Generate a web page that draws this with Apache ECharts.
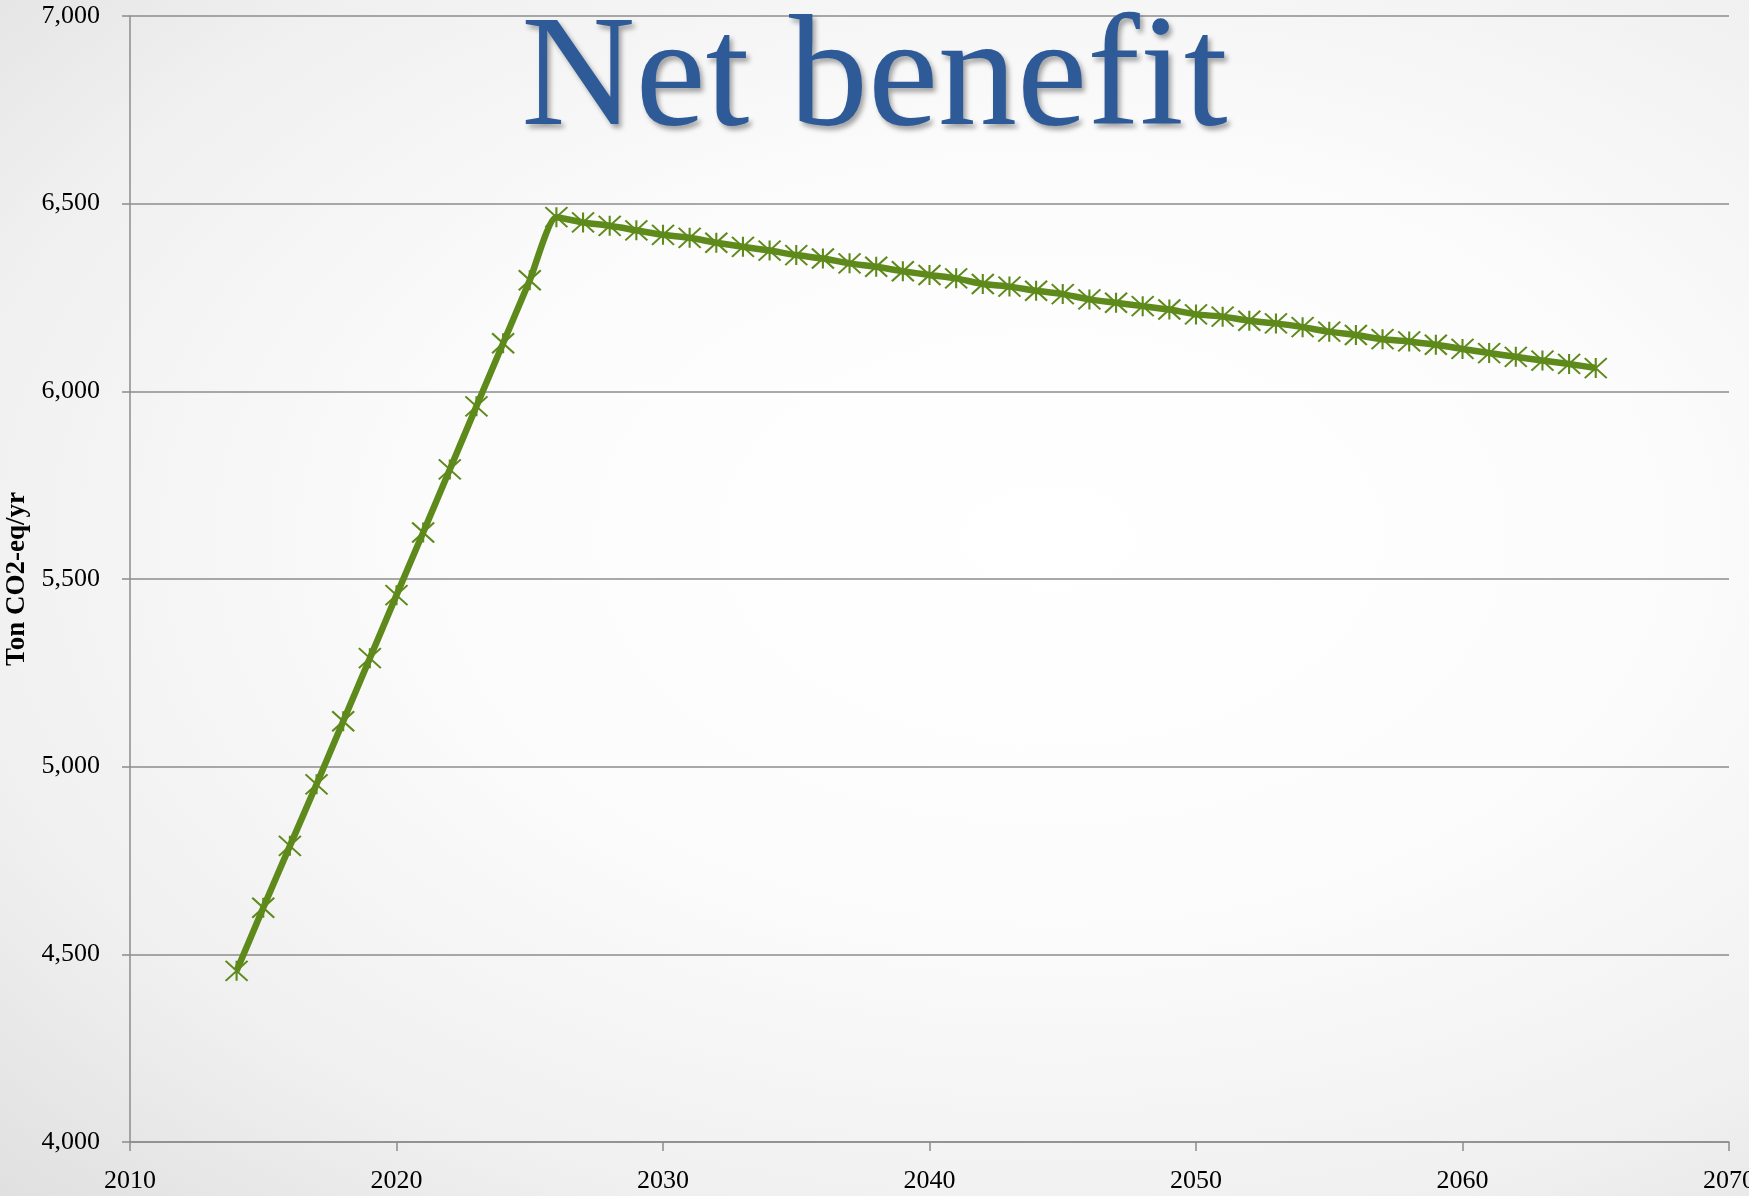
<!DOCTYPE html>
<html>
<head>
<meta charset="utf-8">
<title>Net benefit</title>
<script src="https://cdn.jsdelivr.net/npm/echarts@6/dist/echarts.min.js"></script>
<style>
  html, body { margin: 0; padding: 0; overflow: hidden; }
  #chart {
    width: 1749px;
    height: 1196px;
    background: radial-gradient(ellipse farthest-corner at 60% 45%, #ffffff 0%, #fcfcfc 40%, #f0f0f0 75%, #e0e0e0 100%);
  }
</style>
</head>
<body>
<div id="chart"></div>
<script>
// Net benefit of the project, tonnes CO2-equivalent per year
const years = [
  2014, 2015, 2016, 2017, 2018, 2019, 2020, 2021, 2022, 2023, 2024, 2025, 2026,
  2027, 2028, 2029, 2030, 2031, 2032, 2033, 2034, 2035, 2036, 2037, 2038, 2039,
  2040, 2041, 2042, 2043, 2044, 2045, 2046, 2047, 2048, 2049, 2050, 2051, 2052,
  2053, 2054, 2055, 2056, 2057, 2058, 2059, 2060, 2061, 2062, 2063, 2064, 2065
];
const netBenefit = [
  4456, 4624, 4789, 4953, 5121, 5289, 5457, 5624, 5792, 5960, 6128, 6296, 6464,
  6450, 6441, 6429, 6417, 6409, 6396, 6385, 6375, 6363, 6354, 6341, 6332, 6320,
  6310, 6301, 6286, 6279, 6268, 6259, 6245, 6236, 6227, 6218, 6205, 6199, 6188,
  6181, 6171, 6159, 6150, 6139, 6133, 6124, 6113, 6102, 6092, 6082, 6073, 6062
];
const titleText = 'Net benefit';
const yAxisTitle = 'Ton CO2-eq/yr';

const points = years.map((y, i) => [y, netBenefit[i]]);

const green = '#5E8A1B';
const gridGray = '#8c8c8c';
const serif = '"Liberation Serif", "DejaVu Serif", serif';

// asterisk marker: an X crossed by a vertical stroke
const asterisk = 'path://M0,0L20,20M20,0L0,20M10,0L10,20';

const chart = echarts.init(document.getElementById('chart'), null, { renderer: 'canvas' });
chart.setOption({
  backgroundColor: 'transparent',
  animation: false,
  title: {
    text: titleText,
    left: 'center',
    top: 3,
    padding: 0,
    textStyle: {
      fontFamily: serif,
      fontSize: 158,
      fontWeight: 'normal',
      color: '#2E5A97',
      textShadowColor: 'rgba(0,0,0,0.35)',
      textShadowBlur: 5,
      textShadowOffsetX: 3,
      textShadowOffsetY: 4
    }
  },
  grid: {
    left: 130, right: 20, top: 16, bottom: 54,
    containLabel: false,
    outerBoundsMode: 'none'
  },
  xAxis: {
    type: 'value',
    min: 2010,
    max: 2070,
    interval: 10,
    axisLine: { show: true, lineStyle: { color: gridGray, width: 1.5 } },
    axisTick: { show: true, inside: false, length: 9, lineStyle: { color: gridGray, width: 1.5 } },
    splitLine: { show: false },
    axisLabel: {
      margin: 26,
      fontFamily: serif,
      fontSize: 26,
      color: '#000',
      formatter: v => String(v)
    }
  },
  yAxis: {
    type: 'value',
    min: 4000,
    max: 7000,
    interval: 500,
    name: yAxisTitle,
    nameLocation: 'middle',
    nameGap: 95,
    nameTextStyle: { fontFamily: serif, fontSize: 27, fontWeight: 'bold', color: '#000' },
    axisLine: { show: true, lineStyle: { color: gridGray, width: 1.5 } },
    axisTick: { show: true, inside: false, length: 8, lineStyle: { color: gridGray, width: 1.5 } },
    splitLine: { show: true, lineStyle: { color: gridGray, width: 1.5 } },
    axisLabel: {
      margin: 30,
      fontFamily: serif,
      fontSize: 26,
      color: '#000'
    }
  },
  series: [{
    type: 'line',
    data: points,
    smooth: 0.2,
    symbol: asterisk,
    symbolSize: [22, 20],
    showAllSymbol: true,
    lineStyle: { color: green, width: 6.5 },
    itemStyle: { color: green, borderColor: green, borderWidth: 2 }
  }]
});
</script>
</body>
</html>
